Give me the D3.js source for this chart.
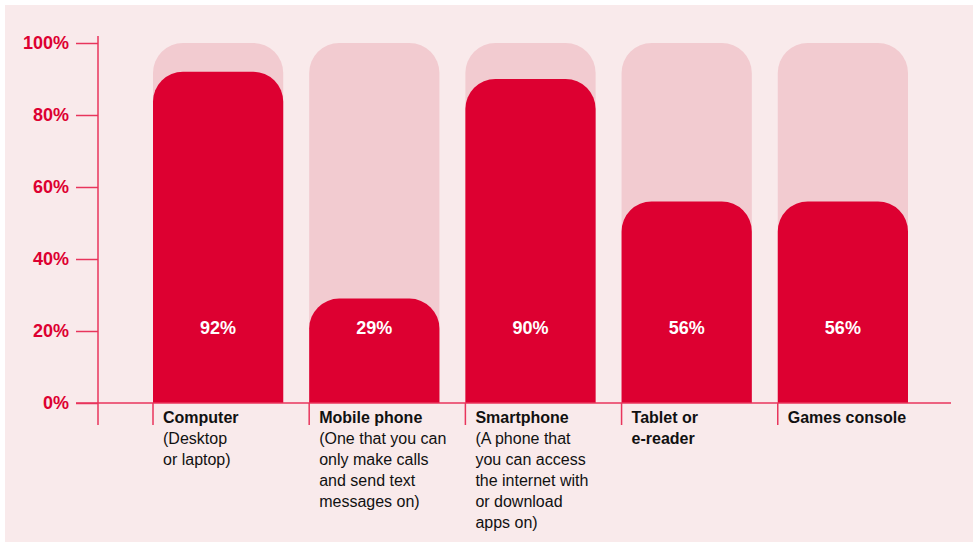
<!DOCTYPE html>
<html>
<head>
<meta charset="utf-8">
<script src="https://cdn.jsdelivr.net/npm/d3@7"></script>
<style>
  body { margin: 0; background: #ffffff; }
  text { font-family: "Liberation Sans", Arial, sans-serif; }
</style>
</head>
<body>
<script>
// data
let categories = ['Computer', 'Mobile phone', 'Smartphone', 'Tablet or', 'Games console'];
let subLines = [
    ['(Desktop', 'or laptop)'],
    ['(One that you can', 'only make calls', 'and send text', 'messages on)'],
    ['(A phone that', 'you can access', 'the internet with', 'or download', 'apps on)'],
    ['e-reader'],
    []
];
let subBold = [false, false, false, true, false];
let values = [92, 29, 90, 56, 56];
let yTicks = [0, 20, 40, 60, 80, 100];

let w = 978, h = 542;
let red = '#dd0031', pale = '#f2cbd0', axisCol = '#e8355c';

let svg = d3.select('body').append('svg')
    .attr('width', w)
    .attr('height', h);

svg.append('rect')
    .attr('x', 5).attr('y', 5)
    .attr('width', 968).attr('height', 537)
    .attr('fill', '#f9eaeb');

let yScale = d3.scaleLinear()
    .domain([0, 100])
    .range([403, 43]);

let xScale = d3.scaleBand()
    .domain(categories)
    .range([153, 908])
    .paddingInner(26 / 156.5)
    .paddingOuter(0);

let bw = xScale.bandwidth();
let r = 30;

// bar with rounded top corners
let barPath = (x, y0, y1) => {
    let rr = Math.min(r, (y0 - y1));
    return `M${x},${y0} V${y1 + rr} A${rr},${rr} 0 0 1 ${x + rr},${y1} H${x + bw - rr} A${rr},${rr} 0 0 1 ${x + bw},${y1 + rr} V${y0} Z`;
};

svg.selectAll('.bg')
    .data(categories)
    .enter()
    .append('path')
    .attr('class', 'bg')
    .attr('d', d => barPath(xScale(d), yScale(0), yScale(100)))
    .attr('fill', pale);

svg.selectAll('.bar')
    .data(categories)
    .enter()
    .append('path')
    .attr('class', 'bar')
    .attr('d', (d, i) => barPath(xScale(d), yScale(0), yScale(values[i])))
    .attr('fill', red);

svg.selectAll('.val')
    .data(categories)
    .enter()
    .append('text')
    .attr('class', 'val')
    .attr('x', d => xScale(d) + bw / 2)
    .attr('y', 334)
    .attr('text-anchor', 'middle')
    .attr('fill', '#ffffff')
    .style('font-size', '18px')
    .style('font-weight', 'bold')
    .text((d, i) => values[i] + '%');

// y axis
let yAxis = svg.append('g')
    .attr('transform', 'translate(98,0)')
    .call(d3.axisLeft(yScale).tickValues(yTicks).tickSize(22).tickPadding(7).tickFormat(d => d + '%'));
yAxis.select('.domain').remove();
yAxis.selectAll('line').attr('stroke', axisCol).attr('stroke-width', 1.5);
yAxis.selectAll('text')
    .attr('fill', red)
    .style('font-size', '18px')
    .style('font-weight', 'bold')
    .style('font-family', '"Liberation Sans", Arial, sans-serif');

svg.append('line')
    .attr('x1', 98).attr('x2', 98)
    .attr('y1', 36).attr('y2', 425)
    .attr('stroke', axisCol).attr('stroke-width', 1.5);

svg.append('line')
    .attr('x1', 76).attr('x2', 951)
    .attr('y1', yScale(0)).attr('y2', yScale(0))
    .attr('stroke', axisCol).attr('stroke-width', 1.5);

// separators under bars
svg.selectAll('.sep')
    .data(categories)
    .enter()
    .append('line')
    .attr('class', 'sep')
    .attr('x1', d => xScale(d)).attr('x2', d => xScale(d))
    .attr('y1', yScale(0)).attr('y2', 425)
    .attr('stroke', axisCol).attr('stroke-width', 1.5);

// category labels
categories.forEach((c, i) => {
    let t = svg.append('text')
        .attr('x', xScale(c) + 10)
        .attr('y', 423)
        .attr('fill', '#111')
        .style('font-size', '16px');
    t.append('tspan')
        .attr('x', xScale(c) + 10)
        .style('font-weight', 'bold')
        .text(c);
    subLines[i].forEach(s => {
        t.append('tspan')
            .attr('x', xScale(c) + 10)
            .attr('dy', 21)
            .style('font-weight', subBold[i] ? 'bold' : 'normal')
            .text(s);
    });
});
</script>
</body>
</html>
